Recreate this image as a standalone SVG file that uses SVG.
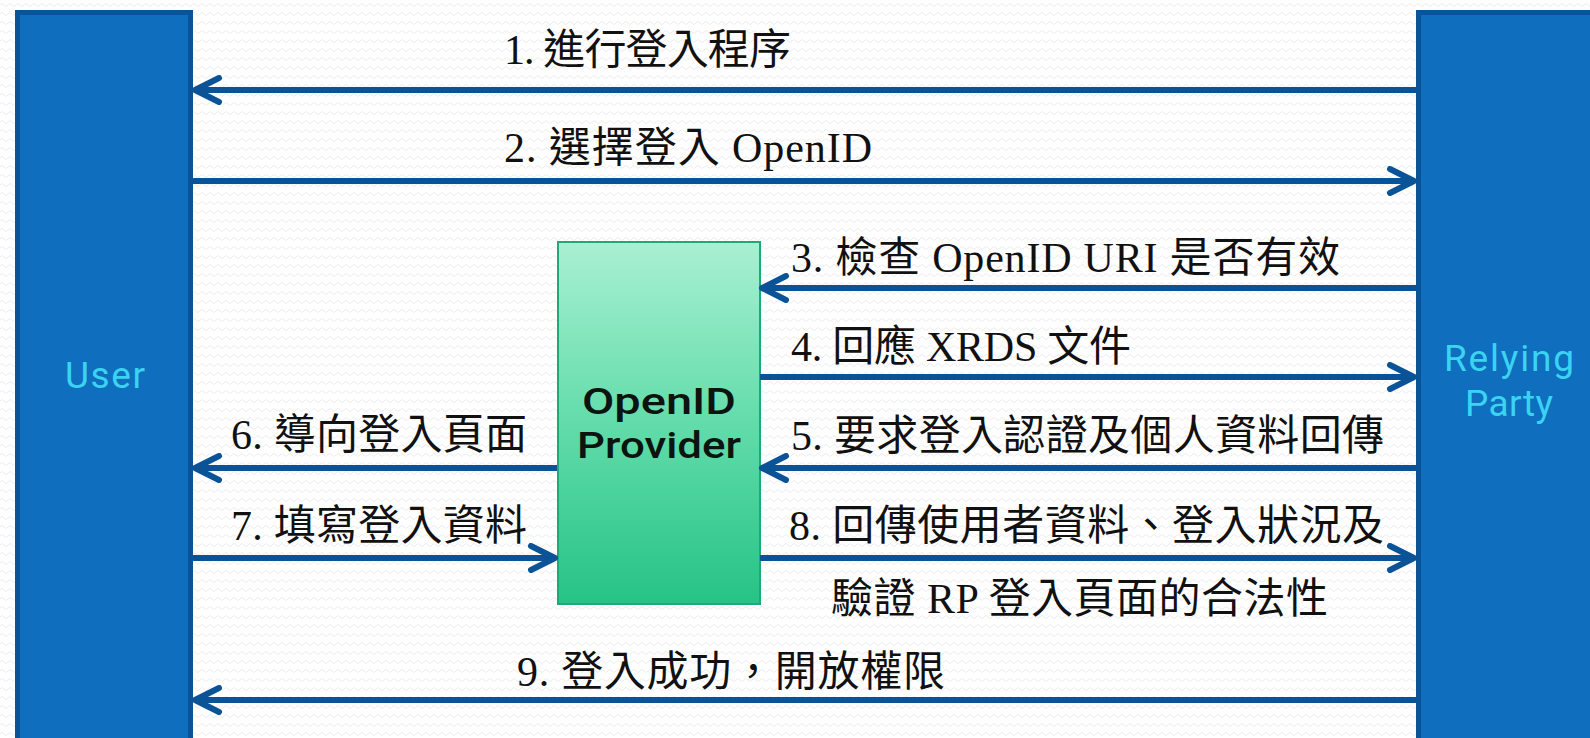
<svg xmlns="http://www.w3.org/2000/svg" width="1590" height="738" viewBox="0 0 1590 738">
<defs>
<pattern id="bg" width="8" height="9" patternUnits="userSpaceOnUse">
<rect width="8" height="9" fill="#ffffff"/>
<path d="M0 5 Q2 2 4 5 T8 5" fill="none" stroke="#ededed" stroke-width="1"/>
</pattern>
<linearGradient id="og" x1="0" y1="0" x2="0" y2="1">
<stop offset="0" stop-color="#a9f0d3"/>
<stop offset="0.5" stop-color="#62dcaa"/>
<stop offset="1" stop-color="#26c386"/>
</linearGradient>
<marker id="ah" viewBox="-30 -15 34 30" refX="0" refY="0" markerWidth="34" markerHeight="30" markerUnits="userSpaceOnUse" orient="auto">
<path d="M-24,-12 L0,0 L-24,12" fill="none" stroke="#0b5397" stroke-width="6" stroke-linecap="round" stroke-linejoin="round"/>
</marker>
</defs>
<style>
.actor{fill:#106ebe;stroke:#0b5397;stroke-width:5}
.alabel{font-family:Roboto,"Open Sans",sans-serif;font-size:37px;fill:#3ad3f2;text-anchor:middle}
.plabel{font-family:Roboto,"Open Sans",sans-serif;font-size:37px;font-weight:500;fill:#0d1410;text-anchor:middle}
.conn line{stroke:#0b5397;stroke-width:6;marker-end:url(#ah)}
.lbl{font-family:"Liberation Serif","Noto Sans CJK TC",serif;font-size:42px;fill:#111111}
</style>
<rect width="1590" height="738" fill="url(#bg)"/>
<g id="user">
<rect class="actor" x="17.5" y="12.5" width="173" height="760"/>
<text class="alabel" x="105" y="388" textLength="80" lengthAdjust="spacing">User</text>
</g>
<g id="relying-party">
<rect class="actor" x="1418.5" y="12.5" width="200" height="760"/>
<text class="alabel" x="1509" y="371" textLength="130" lengthAdjust="spacing">Relying</text>
<text class="alabel" x="1509" y="416" textLength="88" lengthAdjust="spacing">Party</text>
</g>
<g id="openid-provider">
<rect x="558" y="242" width="202" height="362" fill="url(#og)" stroke="#1eaa76" stroke-width="2"/>
<text class="plabel" x="659" y="414" textLength="154" lengthAdjust="spacingAndGlyphs">OpenID</text>
<text class="plabel" x="659" y="458" textLength="164" lengthAdjust="spacingAndGlyphs">Provider</text>
</g>
<g id="connectors" class="conn">
<line x1="1416" y1="90" x2="195" y2="90"/>
<line x1="193" y1="181" x2="1414" y2="181"/>
<line x1="1416" y1="288" x2="762" y2="288"/>
<line x1="760" y1="377" x2="1414" y2="377"/>
<line x1="1416" y1="468" x2="762" y2="468"/>
<line x1="557" y1="468" x2="195" y2="468"/>
<line x1="193" y1="558" x2="555" y2="558"/>
<line x1="760" y1="558" x2="1414" y2="558"/>
<line x1="1416" y1="700" x2="195" y2="700"/>
</g>
<g id="labels">
<text class="lbl" x="504" y="64" textLength="287" lengthAdjust="spacing">1. 進行登入程序</text>
<text class="lbl" x="504" y="162" textLength="368" lengthAdjust="spacing">2. 選擇登入 OpenID</text>
<text class="lbl" x="791" y="272" textLength="549" lengthAdjust="spacing">3. 檢查 OpenID URI 是否有效</text>
<text class="lbl" x="791" y="361" textLength="340" lengthAdjust="spacing">4. 回應 XRDS 文件</text>
<text class="lbl" x="791" y="450" textLength="593" lengthAdjust="spacing">5. 要求登入認證及個人資料回傳</text>
<text class="lbl" x="231" y="449" textLength="296" lengthAdjust="spacing">6. 導向登入頁面</text>
<text class="lbl" x="231" y="540" textLength="296" lengthAdjust="spacing">7. 填寫登入資料</text>
<text class="lbl" x="789" y="540" textLength="595" lengthAdjust="spacing">8. 回傳使用者資料、登入狀況及</text>
<text class="lbl" x="831" y="613" textLength="497" lengthAdjust="spacing">驗證 RP 登入頁面的合法性</text>
<text class="lbl" x="517" y="686" textLength="428" lengthAdjust="spacing">9. 登入成功，開放權限</text>
</g>
</svg>
